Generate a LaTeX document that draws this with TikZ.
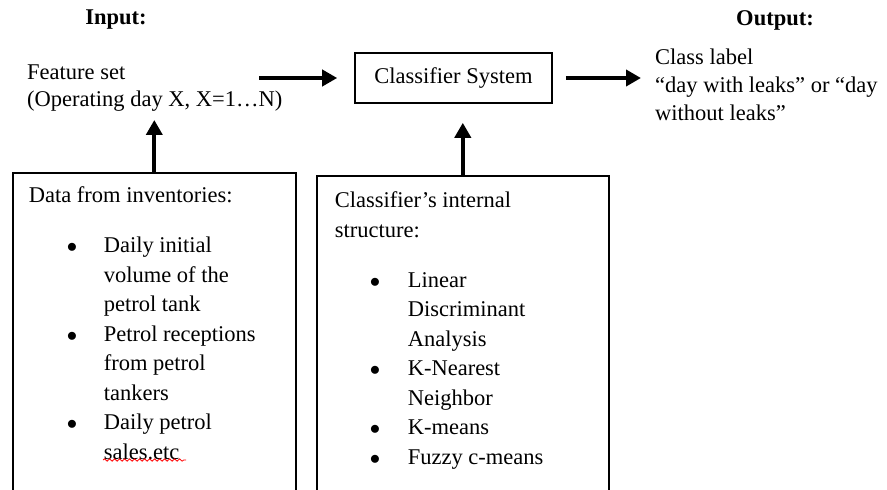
\documentclass[tikz,border=0pt]{standalone}
\usepackage{fontspec}
\setmainfont{Liberation Serif}
\usetikzlibrary{arrows.meta,positioning,decorations.pathmorphing}

\tikzset{
  flow/.style={line width=4pt,-{Triangle[length=15pt,width=16pt]}},
  frame/.style={draw,line width=1.6pt,anchor=north west,inner xsep=0pt,inner ysep=14pt},
  plain/.style={inner sep=0pt,align=left,anchor=north west},
}
\newcommand{\bitem}[3]{\hspace*{#1}\makebox[#2][l]{$\bullet$}#3}
\newcommand{\bcont}[2]{\hspace*{#1}#2}

\begin{document}
\begin{tikzpicture}[x=1pt,y=-1pt,font=\fontsize{22.5}{29.5}\selectfont]
\useasboundingbox (0,0) rectangle (887,490);
\clip (0,0) rectangle (887,490);

\node[font=\fontsize{22.5}{27}\selectfont\bfseries] (inlab) at (116,20) {Input:};
\node[font=\fontsize{22.5}{27}\selectfont\bfseries] (outlab) at (775,20) {Output:};

\node[plain,font=\fontsize{22.5}{27}\selectfont] (feat) at (27,65) {Feature set\\(Operating day X, X=1…N)};
\node[draw,line width=1.6pt,minimum width=197pt,minimum height=50pt] (cls) at (453.5,78) {Classifier System};
\node[plain,font=\fontsize{22.5}{28}\selectfont] (outtxt) at (655,49) {Class label\\“day with leaks” or “day\\without leaks”};

\node[frame] (data) at (12,172) {\parbox[t][330pt][t]{283pt}{\hspace*{16pt}Data from inventories:\\[20.5pt]
\bitem{54pt}{37pt}{Daily initial}\\
\bcont{91pt}{volume of the}\\
\bcont{91pt}{petrol tank}\\
\bitem{54pt}{37pt}{Petrol receptions}\\
\bcont{91pt}{from petrol}\\
\bcont{91pt}{tankers}\\
\bitem{54pt}{37pt}{Daily petrol}\\
\bcont{91pt}{sales.etc}}};

\node[frame,inner ysep=16pt] (struct) at (316,175) {\parbox[t][330pt][t]{292pt}{\hspace*{18pt}Classifier’s internal\\
\hspace*{18pt}structure:\\[20.5pt]
\bitem{53pt}{38pt}{Linear}\\
\bcont{91pt}{Discriminant}\\
\bcont{91pt}{Analysis}\\
\bitem{53pt}{38pt}{K-Nearest}\\
\bcont{91pt}{Neighbor}\\
\bitem{53pt}{38pt}{K-means}\\
\bitem{53pt}{38pt}{Fuzzy c-means}}};

\coordinate (fstart) at (259,78);
\draw[flow,shorten >=17pt] (fstart) -- (cls.west);
\draw[flow,shorten <=13pt,shorten >=14pt] (cls.east) -- (cls.east -| outtxt.west);
\draw[flow,shorten >=8pt] (data.north) -- (data.north |- feat.south);
\draw[flow,shorten >=19pt] (struct.north) -- (struct.north |- cls.south);

\draw[red,line width=0.8pt,decorate,decoration={snake,amplitude=1.2pt,segment length=5pt}] (103,460) -- (186,460);
\end{tikzpicture}
\end{document}
